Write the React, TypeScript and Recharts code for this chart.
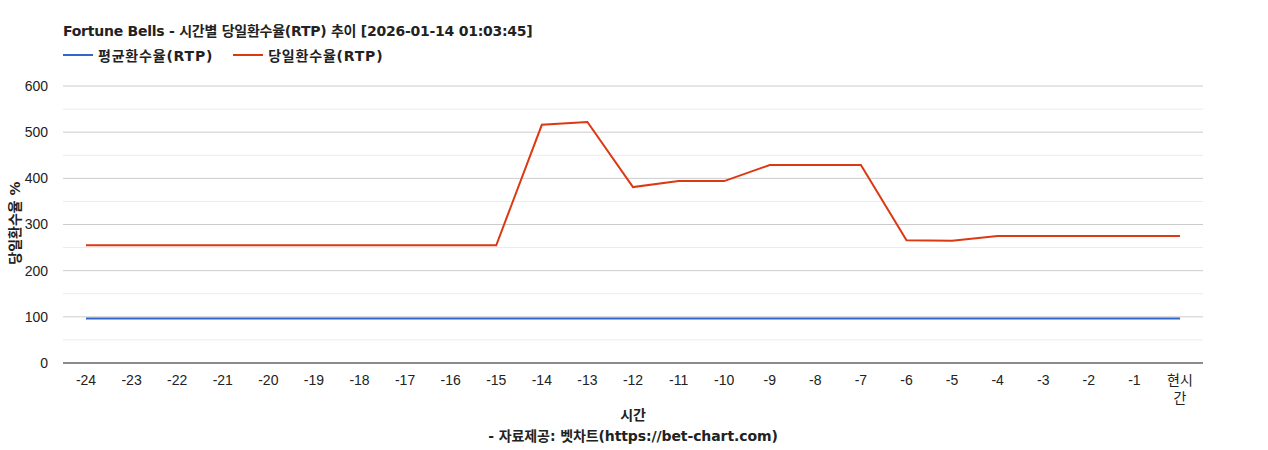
import { LineChart, Line, XAxis, YAxis, CartesianGrid, ReferenceLine } from "recharts";

const hours = [
  "-24", "-23", "-22", "-21", "-20", "-19", "-18", "-17", "-16", "-15", "-14", "-13",
  "-12", "-11", "-10", "-9", "-8", "-7", "-6", "-5", "-4", "-3", "-2", "-1", "현시간",
];
const avgRtp = [
  96.5, 96.5, 96.5, 96.5, 96.5, 96.5, 96.5, 96.5, 96.5, 96.5, 96.5, 96.5,
  96.5, 96.5, 96.5, 96.5, 96.5, 96.5, 96.5, 96.5, 96.5, 96.5, 96.5, 96.5, 96.5,
];
const dayRtp = [
  255, 255, 255, 255, 255, 255, 255, 255, 255, 255, 516, 522,
  381, 394, 394, 429, 429, 429, 266, 265, 275, 275, 275, 275, 275,
];
const seriesNames = ["평균환수율(RTP)", "당일환수율(RTP)"];
const yTicks = [0, 100, 200, 300, 400, 500, 600];
const minorTicks = [50, 150, 250, 350, 450, 550];

const data = hours.map((hour, i) => ({ hour, avg: avgRtp[i], day: dayRtp[i] }));

const FONT = "Arial, 'Liberation Sans', 'Noto Sans CJK KR', sans-serif";
const BOLD_FONT = "'DejaVu Sans', 'Noto Sans CJK KR', sans-serif";
const BLUE = "#3366cc";
const RED = "#dc3912";

const boldText = { fontFamily: BOLD_FONT, fontSize: 14, fontWeight: "bold" as const, color: "#222", whiteSpace: "nowrap" as const };

const HourTick = (props: any) => {
  const { x, y, payload } = props;
  const v = String(payload.value);
  const lines = v === "현시간" ? ["현시", "간"] : [v];
  return (
    <text x={x} y={y} textAnchor="middle" fill="#222" fontSize={14} fontFamily={FONT}>
      {lines.map((l, i) => (
        <tspan key={i} x={x} dy={i === 0 ? "0.71em" : 18}>{l}</tspan>
      ))}
    </text>
  );
};

export default function App() {
  return (
    <div style={{ position: "absolute", left: 0, top: 0, width: 1268, height: 450, background: "#fff" }}>
      <div style={{ ...boldText, position: "absolute", left: 63, top: 20, letterSpacing: -0.25 }}>
        Fortune Bells - 시간별 당일환수율(RTP) 추이 [2026-01-14 01:03:45]
      </div>
      <div style={{ ...boldText, position: "absolute", left: 63, top: 45, display: "flex" }}>
        {seriesNames.map((name, i) => (
          <div key={name} style={{ display: "flex", alignItems: "center", marginRight: 20 }}>
            <span style={{ display: "inline-block", width: 30, height: 2, background: i === 0 ? BLUE : RED, marginRight: 5 }} />
            <span style={{ letterSpacing: 0.8 }}>{name}</span>
          </div>
        ))}
      </div>
      <LineChart
        width={1268}
        height={450}
        data={data}
        margin={{ top: 86, right: 65, bottom: 57, left: 23 }}
      >
        {minorTicks.map((t) => (
          <ReferenceLine key={t} y={t} stroke="#ebebeb" strokeWidth={1} />
        ))}
        <CartesianGrid vertical={false} stroke="#cccccc" />
        <XAxis
          dataKey="hour"
          interval={0}
          height={30}
          padding={{ left: 23, right: 23 }}
          tickLine={false}
          tickMargin={6}
          stroke="#333"
          tick={<HourTick />}
        />
        <YAxis
          width={40}
          domain={[0, 600]}
          ticks={yTicks}
          axisLine={false}
          tickLine={false}
          tickMargin={9}
          tick={{ fill: "#222", fontSize: 14, fontFamily: FONT }}
        />
        <Line name={seriesNames[0]} dataKey="avg" stroke={BLUE} strokeWidth={2} dot={false} isAnimationActive={false} />
        <Line name={seriesNames[1]} dataKey="day" stroke={RED} strokeWidth={2} dot={false} isAnimationActive={false} />
      </LineChart>
      <div style={{ ...boldText, position: "absolute", left: 14, top: 223, transform: "translate(-50%, -50%) rotate(-90deg)" }}>
        당일환수율 %
      </div>
      <div style={{ ...boldText, position: "absolute", left: 0, width: 1268, top: 405, textAlign: "center", lineHeight: "21px", letterSpacing: -0.1 }}>
        <div style={{ position: "relative", left: -1 }}>시간</div>
        <div style={{ position: "relative", left: -1 }}>- 자료제공: 벳차트(https://bet-chart.com)</div>
      </div>
    </div>
  );
}
